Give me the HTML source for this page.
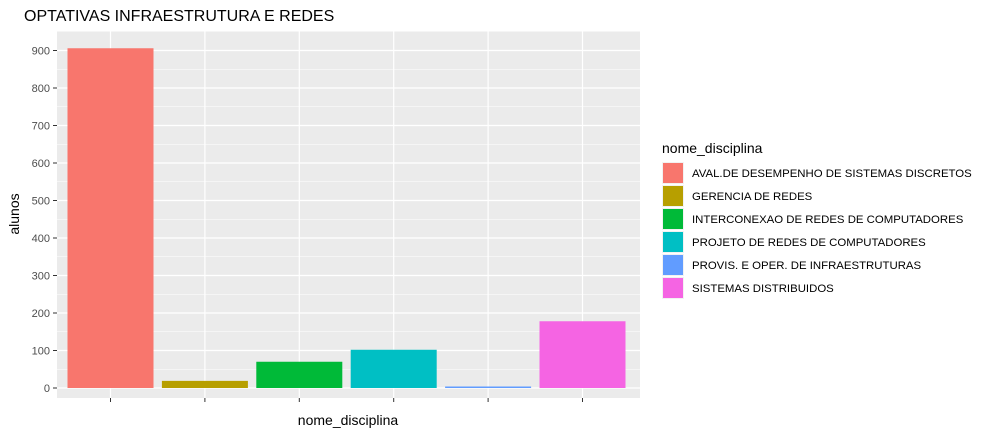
<!DOCTYPE html>
<html><head><meta charset="utf-8"><style>
body{margin:0;background:#fff;font-family:"Liberation Sans",Arial,sans-serif;}
</style></head><body>
<svg width="990" height="435" xmlns="http://www.w3.org/2000/svg" font-family="Liberation Sans, Arial, sans-serif">
<text x="24" y="21" font-size="16" fill="#000">OPTATIVAS INFRAESTRUTURA E REDES</text>
<rect x="57" y="31" width="583" height="367" fill="#ebebeb"/>
<g id="grid"></g>
<g id="bars"></g>
<g id="yaxis"></g>
<g id="xaxis"></g>
<text x="348" y="425" font-size="14" text-anchor="middle">nome_disciplina</text>
<text transform="translate(19,214) rotate(-90)" font-size="14" text-anchor="middle">alunos</text>
<text x="662" y="153" font-size="14">nome_disciplina</text>
<g id="legend"></g>
</svg>
<script>
const categories=["AVAL.DE DESEMPENHO DE SISTEMAS DISCRETOS","GERENCIA DE REDES","INTERCONEXAO DE REDES DE COMPUTADORES","PROJETO DE REDES DE COMPUTADORES","PROVIS. E OPER. DE INFRAESTRUTURAS","SISTEMAS DISTRIBUIDOS"];
const values=[906,19,70,102,3,178];
const colors=["#F8766D","#B79F00","#00BA38","#00BFC4","#619CFF","#F564E3"];
const yTicks=[0,100,200,300,400,500,600,700,800,900];
const NS="http://www.w3.org/2000/svg";
const y0=388,pxPer=37.5/100;
const yScale=v=>y0-v*pxPer;
const step=94.4,x0=110.5;
const xScale=i=>x0+i*step;
const bw=86;
function mk(tag,attrs,parent){const e=document.createElementNS(NS,tag);for(const k in attrs)e.setAttribute(k,attrs[k]);document.getElementById(parent).appendChild(e);return e;}
for(let i=0;i<yTicks.length;i++){
  const v=yTicks[i]+50; const y=yScale(v);
  if(y>31){const l=mk('line',{x1:57,x2:640,y1:y,y2:y,stroke:'#fff','stroke-width':0.6},'grid');
  
  }
}
{const y=yScale(-50);const l=mk('line',{x1:57,x2:640,y1:y,y2:y,stroke:'#fff','stroke-width':0.6},'grid');

}
yTicks.forEach(v=>{
  const y=yScale(v);
  const l=mk('line',{x1:57,x2:640,y1:y,y2:y,stroke:'#fff','stroke-width':1.2},'grid');
  
  
  const t=mk('line',{x1:53,x2:57,y1:y,y2:y,stroke:'#333','stroke-width':1},'yaxis');
  
  
  const tx=mk('text',{x:50,y:y+4,'font-size':11,'text-anchor':'end',fill:'#4d4d4d'},'yaxis');
  tx.textContent=v;
  
  
});
categories.forEach((c,i)=>{
  const x=xScale(i);
  const g=mk('line',{x1:x,x2:x,y1:31,y2:398,stroke:'#fff','stroke-width':1.2},'grid');
  
  
  const top=yScale(values[i]);
  const r=mk('rect',{x:x-bw/2,y:Math.min(top,y0-1.5),width:bw,height:Math.max(y0-top,1.5),fill:colors[i]},'bars');
  
  
  const t=mk('line',{x1:x,x2:x,y1:398,y2:402,stroke:'#333','stroke-width':1},'xaxis');
  
  
  const ly=162+i*23;
  const k=mk('rect',{x:662,y:ly,width:22,height:22,fill:'#f2f2f2'},'legend');
  
  
  const k2=mk('rect',{x:663,y:ly+1,width:20,height:20,fill:colors[i]},'legend');
  
  
  const lt=mk('text',{x:692,y:ly+15,'font-size':11.4,fill:'#000'},'legend');
  lt.textContent=c;
  
  
});
</script>
</body></html>
